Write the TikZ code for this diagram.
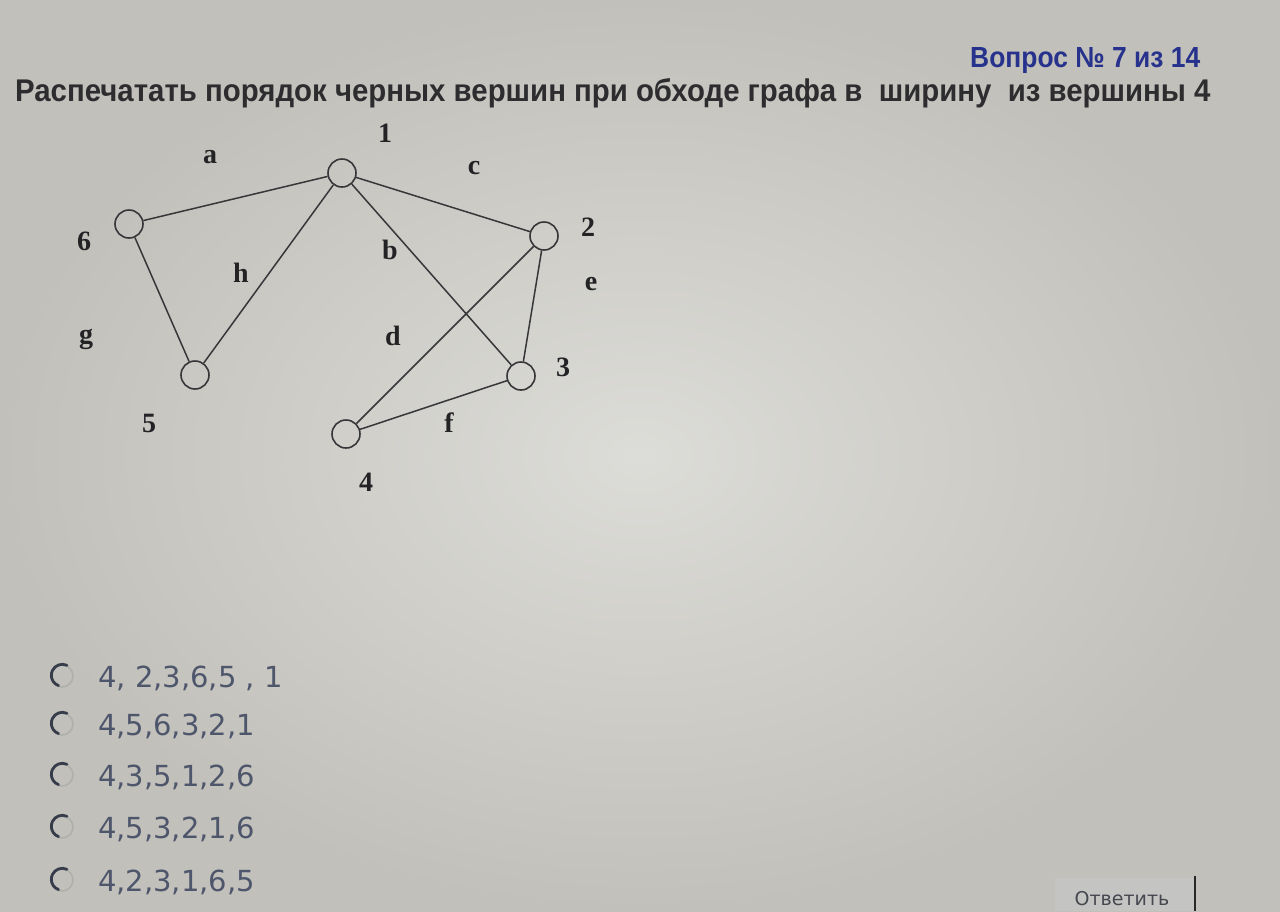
\documentclass[tikz,border=0pt]{standalone}
\usepackage{fontspec}
\usepackage{graphicx}
\setmainfont{Liberation Sans}
\newfontfamily\serifb{Liberation Serif}
\newfontfamily\dejavu{DejaVu Sans}
\definecolor{bgin}{RGB}{220,220,216}
\definecolor{bgout}{RGB}{194,192,186}
\definecolor{titlecol}{RGB}{45,45,48}
\definecolor{headcol}{RGB}{38,50,140}
\definecolor{optcol}{RGB}{78,86,108}
\definecolor{labelcol}{RGB}{35,35,38}
\definecolor{linecol}{RGB}{55,55,58}
\definecolor{radiodark}{RGB}{55,60,75}
\definecolor{radiolight}{RGB}{175,175,172}
\definecolor{btnfill}{RGB}{196,196,194}
\definecolor{btnedge}{RGB}{40,40,42}
\definecolor{btntext}{RGB}{70,72,80}
\begin{document}
\begin{tikzpicture}[x=1pt,y=-1pt,
  vertex/.style={circle,draw=linecol,line width=1.6pt,minimum size=28pt,inner sep=0pt},
  edge/.style={draw=linecol,line width=1.5pt},
  lbl/.style={font=\serifb\bfseries\fontsize{28}{28}\selectfont,text=labelcol,inner sep=0pt},
  opt/.style={font=\dejavu\fontsize{29}{29}\selectfont,text=optcol,anchor=base west,inner sep=0pt},
  radio/.style={circle,draw=radiolight,line width=1.6pt,minimum size=22pt,inner sep=0pt},
  radioarc/.style={draw=radiodark,line width=2.8pt,line cap=round}]
\useasboundingbox (0,0) rectangle (1280,911);
\shade[inner color=bgin,outer color=bgout] (0,0) rectangle (1280,911);

% header and title
\node[anchor=base west,inner sep=0pt,text=headcol] (head) at (970,67)
  {\resizebox{230pt}{20pt}{\bfseries Вопрос № 7 из 14}};
\node[anchor=base west,inner sep=0pt,text=titlecol] (title) at (15,101)
  {\resizebox{1195pt}{23pt}{\bfseries Распечатать порядок черных вершин при обходе графа в\ \ ширину\ \ из вершины 4}};

% vertices
\node[vertex] (v1) at (342,173) {};
\node[vertex] (v2) at (544,236) {};
\node[vertex] (v3) at (521,376) {};
\node[vertex] (v4) at (346,434) {};
\node[vertex] (v5) at (195,375) {};
\node[vertex] (v6) at (129,224) {};

% edges
\draw[edge] (v1) -- (v6);
\draw[edge] (v1) -- (v2);
\draw[edge] (v1) -- (v5);
\draw[edge] (v1) -- (v3);
\draw[edge] (v6) -- (v5);
\draw[edge] (v2) -- (v4);
\draw[edge] (v2) -- (v3);
\draw[edge] (v3) -- (v4);

% vertex labels
\node[lbl] (n1) at (385,133) {1};
\node[lbl] (n2) at (588,227) {2};
\node[lbl] (n3) at (563,367) {3};
\node[lbl] (n4) at (366,482) {4};
\node[lbl] (n5) at (149,423) {5};
\node[lbl] (n6) at (84,241) {6};

% edge labels
\node[lbl] (ea) at (210,157) {a};
\node[lbl] (eb) at (390,250) {b};
\node[lbl] (ec) at (474,168) {c};
\node[lbl] (ed) at (393,336) {d};
\node[lbl] (ee) at (591,284) {e};
\node[lbl] (ef) at (449,423) {f};
\node[lbl] (eg) at (86,339) {g};
\node[lbl] (eh) at (241,273) {h};

% options
\foreach \i/\yy/\txt in {1/676/{4, 2,3,6,5 , 1},2/724/{4,5,6,3,2,1},3/775/{4,3,5,1,2,6},4/827/{4,5,3,2,1,6},5/880/{4,2,3,1,6,5}}{
  \node[radio] (r\i) at (62,\yy) {};
  \draw[radioarc] (r\i.65) arc[start angle=-65,end angle=-250,radius=11];
  \node[opt] (o\i) at (98,\yy+11) {\txt};
}

% button
\path[fill=btnfill] (1055,878) rectangle (1195,911);
\draw[btnedge,line width=2pt] (1195,876) -- (1195,911);
\node[font=\dejavu\fontsize{19}{19}\selectfont,text=btntext,inner sep=0pt,anchor=base] (btn) at (1122,905) {Ответить};
\end{tikzpicture}
\end{document}
